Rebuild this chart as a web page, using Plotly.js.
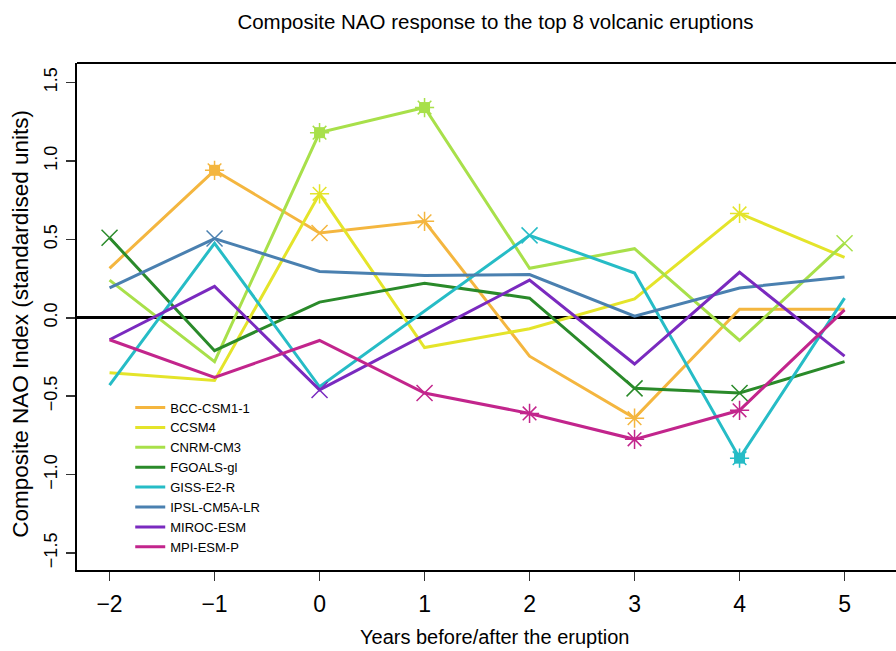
<!DOCTYPE html>
<html>
<head>
<meta charset="utf-8">
<script src="https://cdn.plot.ly/plotly-3.0.1.min.js"></script>
<style>html,body{margin:0;padding:0;overflow:hidden;background:#fff;}#chart{width:896px;height:651px;}</style>
</head>
<body>
<div id="chart"></div>
<script>
// Years relative to eruption
const years = [-2, -1, 0, 1, 2, 3, 4, 5];
const models = ["BCC-CSM1-1", "CCSM4", "CNRM-CM3", "FGOALS-gl", "GISS-E2-R", "IPSL-CM5A-LR", "MIROC-ESM", "MPI-ESM-P"];
const colors = ["#F4B63F", "#E4E42A", "#A8E04A", "#2A8A2A", "#26BCC6", "#4A80B0", "#7A2ABF", "#C2258C"];

const bcc    = [0.315, 0.94, 0.54, 0.615, -0.245, -0.64, 0.054, 0.054];
const ccsm4  = [-0.35, -0.40, 0.79, -0.19, -0.07, 0.12, 0.665, 0.385];
const cnrm   = [0.24, -0.28, 1.18, 1.34, 0.315, 0.44, -0.145, 0.475];
const fgoals = [0.51, -0.21, 0.10, 0.22, 0.125, -0.45, -0.48, -0.28];
const giss   = [-0.43, 0.475, -0.44, 0.04, 0.525, 0.285, -0.895, 0.125];
const ipsl   = [0.19, 0.505, 0.295, 0.27, 0.275, 0.01, 0.19, 0.26];
const miroc  = [-0.14, 0.20, -0.46, -0.11, 0.24, -0.295, 0.29, -0.245];
const mpi    = [-0.14, -0.38, -0.145, -0.48, -0.61, -0.775, -0.59, 0.05];

// marker codes: 0 none, 1 cross, 2 asterisk, 3 filled square with asterisk
const bccSig    = [0, 3, 1, 2, 0, 2, 0, 0];
const ccsm4Sig  = [0, 0, 2, 0, 0, 0, 2, 0];
const cnrmSig   = [0, 0, 3, 3, 0, 0, 0, 1];
const fgoalsSig = [1, 0, 0, 0, 0, 1, 1, 0];
const gissSig   = [0, 0, 0, 0, 1, 0, 3, 0];
const ipslSig   = [0, 1, 0, 0, 0, 0, 0, 0];
const mirocSig  = [0, 0, 1, 0, 0, 0, 0, 0];
const mpiSig    = [0, 0, 0, 1, 2, 2, 2, 0];

const series = [bcc, ccsm4, cnrm, fgoals, giss, ipsl, miroc, mpi];
const sigs = [bccSig, ccsm4Sig, cnrmSig, fgoalsSig, gissSig, ipslSig, mirocSig, mpiSig];

const symFor = c => c === 1 ? "x-thin-open" : "asterisk-open";
const traces = [];
series.forEach((vals, i) => {
  traces.push({
    x: years, y: vals, name: models[i], type: "scatter", mode: "lines",
    line: {color: colors[i], width: 3},
    hoverinfo: "x+y+name"
  });
});
series.forEach((vals, i) => {
  const sg = sigs[i];
  const sx = [], sy = [], mx = [], my = [], ms = [];
  sg.forEach((c, k) => {
    if (c > 0) { mx.push(years[k]); my.push(vals[k]); ms.push(symFor(c)); }
    if (c === 3) { sx.push(years[k]); sy.push(vals[k]); }
  });
  if (sx.length) traces.push({
    x: sx, y: sy, type: "scatter", mode: "markers", showlegend: false, hoverinfo: "skip",
    marker: {symbol: "square", size: 11, color: colors[i]}
  });
  if (mx.length) traces.push({
    x: mx, y: my, type: "scatter", mode: "markers", showlegend: false, hoverinfo: "skip",
    marker: {symbol: ms, size: 16, color: colors[i], line: {color: colors[i], width: 1.5}}
  });
});

const font = "Liberation Sans, Arial, sans-serif";
const layout = {
  width: 896, height: 651,
  margin: {l: 77, r: 0, t: 62.5, b: 81},
  paper_bgcolor: "#fff", plot_bgcolor: "#fff",
  font: {family: font, color: "#000"},
  title: {text: "Composite NAO response to the top 8 volcanic eruptions", font: {size: 20.5, family: font, color: "#000"},
          xref: "container", x: 0.553, xanchor: "center", yref: "container", y: 0.966, yanchor: "middle"},
  xaxis: {range: [-2.31, 5.49], tickvals: years, ticktext: ["\u22122", "\u22121", "0", "1", "2", "3", "4", "5"],
          showgrid: false, zeroline: false, showline: true, linecolor: "#000", linewidth: 2,
          ticks: "outside", ticklen: 9, tickwidth: 1.5, tickcolor: "#333", ticklabelstandoff: 3,
          tickfont: {size: 23, family: font, color: "#000"}},
  yaxis: {range: [-1.608, 1.624], tickvals: [-1.5, -1, -0.5, 0, 0.5, 1, 1.5],
          ticktext: ["\u22121.5", "\u22121.0", "\u22120.5", "0.0", "0.5", "1.0", "1.5"],
          tickangle: -90, showgrid: false, zeroline: true, zerolinecolor: "#000", zerolinewidth: 3,
          showline: true, linecolor: "#000", linewidth: 2,
          ticks: "outside", ticklen: 9, tickwidth: 1.5, tickcolor: "#333", ticklabelstandoff: 2,
          tickfont: {size: 18, family: font, color: "#000"}},
  shapes: [{type: "line", xref: "paper", yref: "paper", x0: 0, x1: 1, y0: 1, y1: 1, line: {color: "#000", width: 2}}],
  annotations: [
    {text: "Years before/after the eruption", xref: "paper", yref: "paper", x: 0.51, y: -0.132,
     xanchor: "center", yanchor: "middle", showarrow: false, font: {size: 20, family: font, color: "#000"}},
    {text: "Composite NAO Index (standardised units)", xref: "paper", yref: "paper", x: -0.07, y: 0.485,
     xanchor: "center", yanchor: "middle", textangle: -90, showarrow: false, font: {size: 22.5, family: font, color: "#000"}}
  ],
  legend: {x: 0.065, y: 0.35, xanchor: "left", yanchor: "top", bgcolor: "rgba(0,0,0,0)",
           font: {size: 13, family: font, color: "#000"}, tracegroupgap: 0, itemwidth: 30},
  showlegend: true
};
Plotly.newPlot("chart", traces, layout, {displayModeBar: false, staticPlot: true});
</script>
</body>
</html>
